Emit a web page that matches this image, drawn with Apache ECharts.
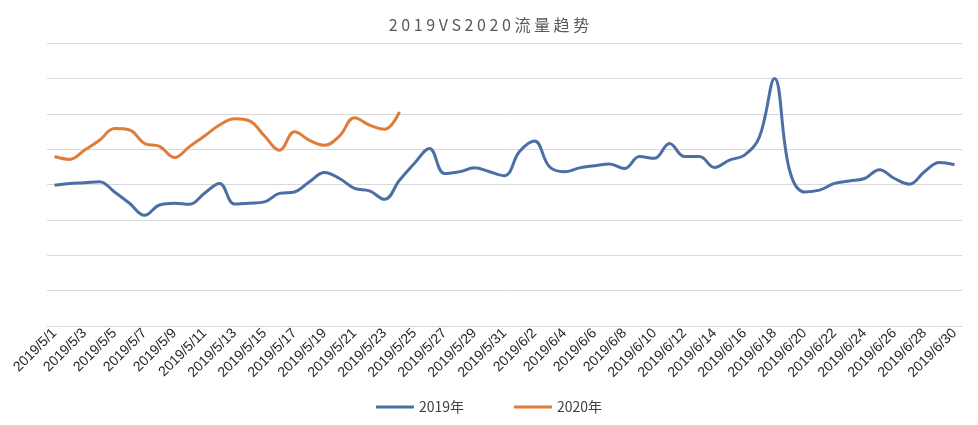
<!DOCTYPE html>
<html><head><meta charset="utf-8">
<script src="https://cdn.jsdelivr.net/npm/echarts@6/dist/echarts.min.js"></script>
<style>html,body{margin:0;padding:0;background:#fff}#c{width:978px;height:425px}</style>
</head><body><div id="c"></div>
<script>
const categories = [];
for (let d = 1; d <= 31; d++) categories.push('2019/5/' + d);
for (let d = 1; d <= 30; d++) categories.push('2019/6/' + d);
const s2019 = [3.98,4.03,4.05,4.08,3.79,3.47,3.13,3.42,3.47,3.44,3.75,4.03,3.45,3.47,3.51,3.75,3.79,4.08,4.34,4.17,3.89,3.82,3.58,4.12,4.6,5.02,4.31,4.36,4.47,4.36,4.25,4.93,5.23,4.5,4.36,4.47,4.53,4.58,4.45,4.79,4.74,5.16,4.79,4.79,4.48,4.69,4.83,5.35,7.0,4.41,3.79,3.84,4.03,4.1,4.17,4.42,4.17,4.01,4.36,4.62,4.56];
const s2020 = [4.79,4.71,4.97,5.25,5.58,5.54,5.16,5.08,4.76,5.07,5.37,5.68,5.86,5.8,5.37,4.97,5.49,5.25,5.11,5.37,5.89,5.68,5.56,6.05];
const chart = echarts.init(document.getElementById('c'));
chart.setOption({
  animation:false,
  color:['#4a6fa5','#e07b39'],
  title:{text:'2 0 1 9 V S 2 0 2 0 流 量 趋 势',left:'center',top:12,textStyle:{fontFamily:'Noto Sans CJK SC',fontSize:16,fontWeight:'normal',color:'#595959'}},
  legend:{bottom:6,left:'center',itemWidth:38,itemHeight:3,itemGap:50,icon:'rect',textStyle:{fontFamily:'Noto Sans CJK SC',fontSize:14,color:'#404040'},data:['2019年','2020年']},
  grid:{left:47,right:16,top:43,bottom:99},
  xAxis:{type:'category',data:categories,boundaryGap:true,
    axisLine:{lineStyle:{color:'#d9d9d9'}},axisTick:{show:false},
    axisLabel:{interval:1,rotate:45,color:'#262626',fontSize:14,fontFamily:'Liberation Sans',margin:5}},
  yAxis:{type:'value',min:0,max:8,interval:1,axisLabel:{show:false},axisLine:{show:false},axisTick:{show:false},
    splitLine:{lineStyle:{color:'#d9d9d9'}}},
  series:[
    {name:'2019年',type:'line',data:s2019,smooth:0.4,symbol:'none',lineStyle:{width:3}},
    {name:'2020年',type:'line',data:s2020,smooth:0.4,symbol:'none',lineStyle:{width:3}}
  ]
});
</script></body></html>
